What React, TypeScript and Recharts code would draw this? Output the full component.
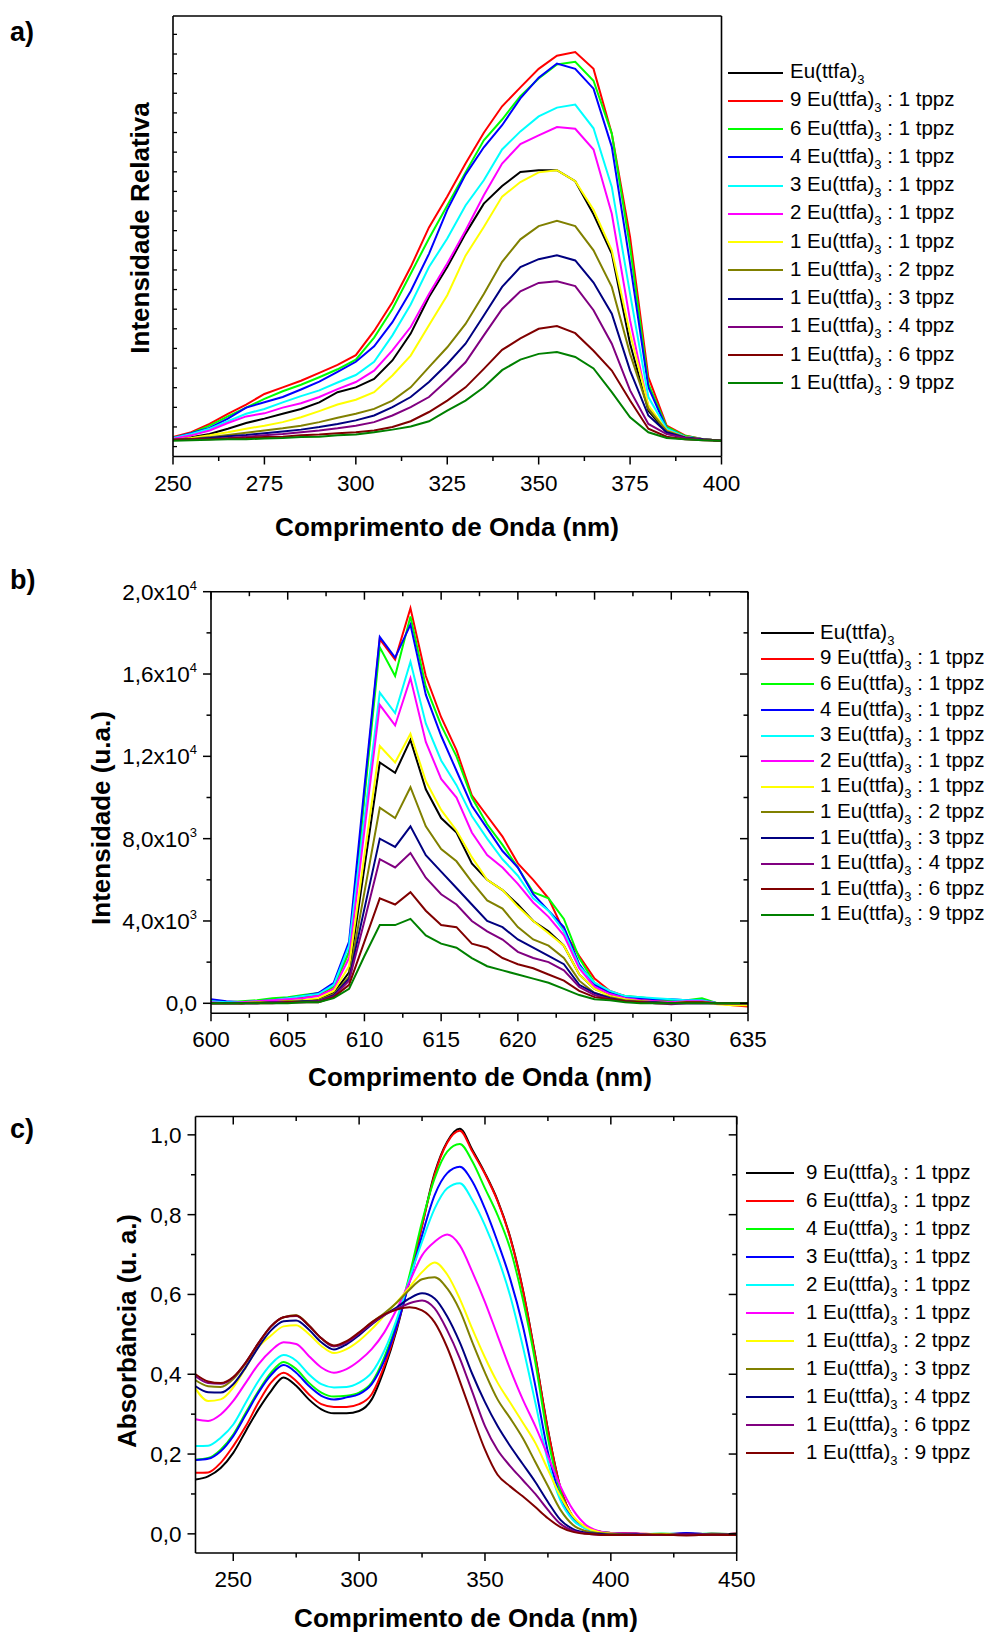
import React from 'react'
import { LineChart, Line, XAxis, YAxis, Legend } from 'recharts'

const FONT = "'Liberation Sans', Arial, Helvetica, sans-serif"
const TICK_FS = 22.5
const AXIS = { stroke: '#000', strokeWidth: 1.6 }

// ---------- a) excitation spectra, relative intensity ----------
const aWave = [250, 255, 260, 265, 270, 275, 280, 285, 290, 295, 300, 305, 310, 315, 320, 325, 330, 335, 340, 345, 350, 355, 360, 365, 370, 375, 380, 385, 390, 395, 400]
const aEu = [3.8, 4.4, 5.1, 6.3, 7.6, 8.6, 9.7, 10.8, 12.3, 14.6, 15.7, 17.6, 21.8, 27.9, 36.2, 43.0, 50.6, 57.4, 61.4, 64.6, 65.0, 65.0, 62.5, 55.0, 46.0, 25.6, 10.4, 5.5, 4.4, 3.9, 3.6]
const aR91 = [4.4, 5.5, 7.4, 9.7, 11.8, 14.2, 15.7, 17.2, 19.0, 20.8, 23.0, 28.5, 35.0, 43.0, 52.0, 59.0, 66.5, 73.5, 79.5, 83.8, 88.0, 91.0, 91.8, 88.0, 73.3, 49.8, 18.0, 7.0, 4.8, 3.9, 3.6]
const aR61 = [4.2, 5.3, 7.0, 9.1, 11.1, 13.1, 14.8, 16.3, 18.0, 19.8, 22.0, 27.0, 33.5, 41.5, 49.5, 57.0, 64.5, 71.8, 76.5, 81.8, 85.8, 89.0, 89.6, 85.3, 73.3, 47.5, 16.5, 6.7, 4.7, 3.9, 3.6]
const aR41 = [4.2, 5.3, 6.5, 8.6, 11.1, 12.3, 13.5, 15.2, 17.0, 19.2, 21.5, 25.0, 30.5, 37.5, 46.0, 56.0, 64.0, 70.2, 75.2, 81.3, 86.0, 89.2, 88.0, 83.5, 70.3, 43.8, 15.7, 6.3, 4.5, 3.9, 3.6]
const aR31 = [4.2, 5.1, 6.3, 8.0, 9.7, 10.8, 12.3, 13.7, 15.0, 16.8, 18.5, 21.5, 27.5, 34.5, 43.0, 49.5, 57.0, 62.7, 69.7, 73.8, 77.2, 79.2, 79.9, 74.5, 61.2, 36.9, 13.5, 6.3, 4.5, 3.9, 3.6]
const aR21 = [4.0, 4.8, 5.9, 7.6, 9.1, 9.8, 11.1, 12.1, 13.5, 15.3, 16.9, 19.5, 24.1, 29.4, 36.9, 43.8, 51.3, 59.3, 66.5, 70.9, 72.9, 74.8, 74.4, 69.7, 55.1, 30.9, 11.2, 5.9, 4.4, 3.9, 3.6]
const aR11 = [3.8, 4.2, 4.8, 5.5, 6.3, 7.0, 7.8, 8.9, 10.3, 11.8, 12.9, 14.6, 18.4, 22.9, 29.8, 36.6, 45.6, 52.1, 59.0, 62.3, 64.5, 65.0, 62.5, 56.0, 46.8, 27.9, 11.6, 5.9, 4.4, 3.9, 3.6]
const aR12 = [3.8, 4.0, 4.4, 4.9, 5.4, 5.9, 6.4, 7.0, 7.8, 8.8, 9.7, 10.8, 12.7, 15.7, 20.3, 24.8, 30.1, 36.9, 44.2, 49.3, 52.3, 53.5, 52.3, 46.8, 38.5, 23.3, 10.8, 5.8, 4.4, 3.9, 3.6]
const aR13 = [3.8, 3.9, 4.2, 4.6, 4.9, 5.3, 5.7, 6.1, 6.7, 7.4, 8.2, 9.3, 11.2, 13.5, 16.9, 21.0, 25.6, 32.0, 38.5, 43.0, 44.8, 45.7, 44.5, 39.5, 32.4, 19.5, 9.3, 5.5, 4.3, 3.9, 3.6]
const aR14 = [3.8, 3.9, 4.0, 4.2, 4.5, 4.8, 5.1, 5.5, 5.9, 6.4, 7.0, 7.8, 9.3, 11.2, 13.5, 17.3, 21.4, 27.5, 33.5, 37.5, 39.4, 39.8, 38.7, 33.2, 25.6, 15.0, 7.4, 5.1, 4.2, 3.8, 3.6]
const aR16 = [3.8, 3.9, 3.9, 4.1, 4.2, 4.4, 4.5, 4.8, 5.0, 5.3, 5.5, 5.9, 6.7, 8.0, 10.1, 12.7, 15.7, 19.9, 24.2, 26.8, 29.0, 29.6, 28.0, 24.0, 19.5, 12.7, 6.3, 4.5, 3.9, 3.7, 3.6]
const aR19 = [3.6, 3.7, 3.8, 3.9, 3.9, 4.1, 4.2, 4.4, 4.5, 4.8, 5.0, 5.5, 6.1, 6.8, 8.0, 10.4, 12.7, 15.7, 19.6, 22.0, 23.3, 23.7, 22.6, 20.0, 14.6, 8.9, 5.5, 4.2, 3.9, 3.7, 3.6]
const aXTicks = [250, 262.5, 275, 287.5, 300, 312.5, 325, 337.5, 350, 362.5, 375, 387.5, 400]
const aXMajor = [250, 275, 300, 325, 350, 375, 400]
const aYTicks = [2.25, 6.71, 11.16, 15.62, 20.07, 24.53, 28.99, 33.44, 37.9, 42.35, 46.81, 51.27, 55.72, 60.18, 64.63, 69.09, 73.55, 78.0, 82.46, 86.91, 91.37, 95.83]

// ---------- b) emission spectra ----------
const bWave = [600, 601, 602, 603, 604, 605, 606, 607, 608, 609, 610, 611, 612, 613, 614, 615, 616, 617, 618, 619, 620, 621, 622, 623, 624, 625, 626, 627, 628, 629, 630, 631, 632, 633, 634, 635]
const bEu = [0, 0, 0, 50, 50, 100, 150, 200, 500, 1500, 6600, 11700, 11200, 12800, 10400, 9000, 8300, 6800, 6000, 5500, 4800, 4000, 3500, 2800, 1400, 700, 400, 200, 150, 100, 50, 50, 50, 0, 0, 0]
const bR91 = [100, 50, 0, 50, 150, 200, 300, 400, 800, 2500, 10200, 17700, 16700, 19200, 15900, 13900, 12300, 10100, 9100, 8100, 6800, 6000, 5100, 3500, 2300, 1200, 600, 350, 250, 150, 100, 100, 150, 0, -100, -150]
const bR61 = [100, 50, 100, 150, 250, 300, 400, 500, 800, 2500, 10000, 17300, 15900, 18800, 15400, 13500, 12000, 10000, 8700, 7700, 6600, 5400, 5100, 4100, 2200, 1000, 500, 350, 300, 200, 150, 150, 250, 0, 0, 0]
const bR41 = [200, 100, 50, 100, 150, 250, 350, 500, 1000, 3000, 10500, 17800, 16800, 18400, 15000, 13000, 11300, 9600, 8500, 7400, 6600, 5300, 4500, 3700, 1900, 900, 500, 300, 250, 200, 200, 150, 150, 0, 0, 0]
const bR31 = [100, 50, 50, 100, 150, 250, 350, 450, 900, 2800, 9000, 15100, 14100, 16600, 13600, 11800, 10600, 9100, 8000, 7000, 6200, 5100, 4500, 3500, 1800, 1000, 600, 350, 300, 250, 200, 150, 150, 0, 0, 0]
const bR21 = [50, 0, 50, 100, 150, 200, 250, 350, 700, 2200, 8400, 14500, 13500, 15800, 12700, 10900, 10000, 8300, 7200, 6600, 5800, 4900, 4200, 3300, 1700, 800, 450, 250, 150, 100, 50, 100, 100, 0, 0, 0]
const bR11 = [0, 0, 0, 50, 50, 100, 150, 250, 600, 1800, 7200, 12500, 11700, 13100, 10800, 9400, 8400, 7100, 6000, 5500, 4700, 4000, 3400, 2800, 1400, 700, 350, 200, 100, 50, 0, 50, 50, -50, -100, -100]
const bR12 = [0, 0, 0, 50, 50, 100, 100, 150, 450, 1300, 5400, 9500, 9000, 10500, 8600, 7500, 6900, 5900, 5000, 4600, 3700, 3100, 2800, 2200, 1100, 500, 300, 150, 100, 50, 0, 50, 50, 0, 0, 0]
const bR13 = [0, 0, 0, 0, 50, 50, 100, 100, 400, 1200, 4600, 8000, 7600, 8600, 7200, 6400, 5600, 4800, 4000, 3700, 3100, 2700, 2300, 1900, 900, 500, 250, 100, 50, 50, 0, 0, 0, 0, 0, 0]
const bR14 = [0, 0, 0, 0, 50, 50, 50, 100, 350, 1100, 4000, 7000, 6600, 7300, 6100, 5300, 4800, 4000, 3500, 3100, 2500, 2200, 2000, 1600, 800, 400, 200, 100, 50, 0, -50, 0, 0, 0, 0, 0]
const bR16 = [0, 0, 0, 0, 0, 50, 50, 50, 300, 900, 3000, 5100, 4800, 5400, 4500, 3800, 3700, 2900, 2700, 2200, 1900, 1700, 1400, 1100, 600, 300, 200, 100, 50, 0, 0, 50, 50, 0, 0, 0]
const bR19 = [0, 0, 0, 0, 0, 0, 50, 50, 250, 700, 2300, 3800, 3800, 4100, 3300, 2900, 2700, 2200, 1800, 1600, 1400, 1200, 1000, 700, 400, 200, 150, 50, 0, 0, 0, 0, 0, 0, 0, 0]
const bXTicks = [600, 602.5, 605, 607.5, 610, 612.5, 615, 617.5, 620, 622.5, 625, 627.5, 630, 632.5, 635]
const bXMajor = [600, 605, 610, 615, 620, 625, 630, 635]
const bYTicks = [0, 2000, 4000, 6000, 8000, 10000, 12000, 14000, 16000, 18000, 20000]
const bYLabels: Record<number, [string, string]> = {
  0: ['0,0', ''],
  4000: ['4,0x10', '3'],
  8000: ['8,0x10', '3'],
  12000: ['1,2x10', '4'],
  16000: ['1,6x10', '4'],
  20000: ['2,0x10', '4']
}

// ---------- c) absorption spectra ----------
const cWave = [235, 240, 245, 250, 255, 260, 265, 270, 275, 280, 285, 290, 295, 300, 305, 310, 315, 320, 325, 330, 335, 340, 345, 350, 355, 360, 365, 370, 375, 380, 385, 390, 395, 400, 410, 420, 430, 440, 450]
const cR91 = [0.136, 0.144, 0.165, 0.203, 0.258, 0.312, 0.358, 0.392, 0.371, 0.337, 0.312, 0.302, 0.302, 0.308, 0.337, 0.413, 0.513, 0.639, 0.773, 0.904, 0.983, 1.015, 0.962, 0.904, 0.836, 0.744, 0.614, 0.446, 0.262, 0.115, 0.042, 0.017, 0.006, 0.002, 0.000, -0.002, 0.001, -0.001, 0.000]
const cR61 = [0.153, 0.154, 0.178, 0.220, 0.270, 0.329, 0.379, 0.404, 0.383, 0.350, 0.325, 0.318, 0.318, 0.325, 0.350, 0.421, 0.518, 0.640, 0.772, 0.900, 0.980, 1.010, 0.958, 0.902, 0.834, 0.742, 0.612, 0.444, 0.260, 0.114, 0.041, 0.017, 0.006, 0.002, 0.001, -0.001, 0.000, -0.002, 0.001]
const cR41 = [0.186, 0.190, 0.211, 0.249, 0.304, 0.358, 0.404, 0.431, 0.413, 0.379, 0.354, 0.344, 0.346, 0.354, 0.379, 0.442, 0.530, 0.648, 0.782, 0.891, 0.958, 0.977, 0.933, 0.866, 0.799, 0.715, 0.589, 0.430, 0.240, 0.105, 0.040, 0.016, 0.006, 0.002, -0.001, 0.000, -0.002, 0.001, -0.001]
const cR31 = [0.185, 0.188, 0.207, 0.245, 0.299, 0.354, 0.398, 0.423, 0.404, 0.371, 0.346, 0.337, 0.342, 0.350, 0.375, 0.434, 0.522, 0.631, 0.748, 0.849, 0.904, 0.920, 0.883, 0.815, 0.732, 0.639, 0.522, 0.371, 0.205, 0.092, 0.037, 0.014, 0.005, 0.001, 0.000, -0.002, 0.002, -0.001, 0.000]
const cR21 = [0.220, 0.221, 0.241, 0.274, 0.329, 0.383, 0.425, 0.448, 0.434, 0.400, 0.375, 0.367, 0.368, 0.379, 0.404, 0.459, 0.539, 0.639, 0.732, 0.815, 0.866, 0.879, 0.836, 0.773, 0.694, 0.597, 0.471, 0.329, 0.182, 0.083, 0.034, 0.013, 0.005, 0.001, -0.002, 0.001, -0.001, 0.000, -0.002]
const cR11 = [0.287, 0.283, 0.299, 0.333, 0.379, 0.425, 0.459, 0.480, 0.476, 0.446, 0.417, 0.404, 0.413, 0.434, 0.463, 0.505, 0.564, 0.631, 0.698, 0.732, 0.750, 0.723, 0.656, 0.581, 0.497, 0.413, 0.337, 0.270, 0.195, 0.119, 0.060, 0.023, 0.007, 0.002, 0.000, -0.001, -0.003, 0.000, -0.001]
const cR12 = [0.364, 0.333, 0.337, 0.367, 0.417, 0.468, 0.497, 0.520, 0.523, 0.501, 0.471, 0.453, 0.463, 0.484, 0.513, 0.547, 0.581, 0.618, 0.656, 0.680, 0.650, 0.589, 0.513, 0.442, 0.379, 0.329, 0.279, 0.228, 0.161, 0.094, 0.044, 0.017, 0.005, 0.001, -0.002, 0.000, -0.001, -0.003, 0.000]
const cR13 = [0.385, 0.370, 0.368, 0.388, 0.428, 0.477, 0.520, 0.543, 0.548, 0.523, 0.490, 0.470, 0.480, 0.503, 0.530, 0.553, 0.580, 0.612, 0.638, 0.643, 0.615, 0.560, 0.480, 0.404, 0.337, 0.290, 0.240, 0.180, 0.120, 0.060, 0.022, 0.007, 0.002, 0.000, -0.002, -0.001, -0.003, 0.000, -0.002]
const cR14 = [0.370, 0.355, 0.354, 0.375, 0.418, 0.468, 0.510, 0.533, 0.535, 0.512, 0.480, 0.462, 0.475, 0.498, 0.525, 0.548, 0.568, 0.590, 0.603, 0.590, 0.545, 0.480, 0.400, 0.330, 0.270, 0.220, 0.175, 0.130, 0.080, 0.035, 0.012, 0.003, 0.000, -0.002, -0.001, -0.003, 0.000, -0.002, -0.001]
const cR16 = [0.395, 0.378, 0.376, 0.392, 0.430, 0.478, 0.520, 0.543, 0.546, 0.522, 0.490, 0.470, 0.480, 0.502, 0.527, 0.548, 0.564, 0.578, 0.585, 0.565, 0.510, 0.440, 0.355, 0.270, 0.210, 0.170, 0.135, 0.100, 0.060, 0.025, 0.008, 0.001, -0.002, -0.003, -0.002, -0.003, -0.001, -0.002, -0.003]
const cR19 = [0.400, 0.382, 0.378, 0.393, 0.430, 0.478, 0.520, 0.543, 0.547, 0.522, 0.490, 0.472, 0.483, 0.505, 0.530, 0.550, 0.562, 0.568, 0.560, 0.530, 0.467, 0.383, 0.295, 0.211, 0.148, 0.119, 0.094, 0.067, 0.039, 0.017, 0.005, 0.000, -0.002, -0.003, -0.003, -0.002, -0.004, -0.002, -0.003]
const cXTicks = [250, 275, 300, 325, 350, 375, 400, 425, 450]
const cXMajor = [250, 300, 350, 400, 450]
const cYTicks = [0, 0.1, 0.2, 0.3, 0.4, 0.5, 0.6, 0.7, 0.8, 0.9, 1.0]
const cYMajor = [0, 0.2, 0.4, 0.6, 0.8, 1.0]

type Series = { key: string; label: string; color: string; values: number[] }

const C = {
  black: '#000000', red: '#ff0000', green: '#00ff00', blue: '#0000ff', cyan: '#00ffff', magenta: '#ff00ff',
  yellow: '#ffff00', olive: '#808000', navy: '#000080', purple: '#800080', maroon: '#800000', dgreen: '#008000'
}

const aSeries: Series[] = [
  { key: 'eu', label: 'Eu(ttfa)3', color: C.black, values: aEu },
  { key: 'r91', label: '9 Eu(ttfa)3 : 1 tppz', color: C.red, values: aR91 },
  { key: 'r61', label: '6 Eu(ttfa)3 : 1 tppz', color: C.green, values: aR61 },
  { key: 'r41', label: '4 Eu(ttfa)3 : 1 tppz', color: C.blue, values: aR41 },
  { key: 'r31', label: '3 Eu(ttfa)3 : 1 tppz', color: C.cyan, values: aR31 },
  { key: 'r21', label: '2 Eu(ttfa)3 : 1 tppz', color: C.magenta, values: aR21 },
  { key: 'r11', label: '1 Eu(ttfa)3 : 1 tppz', color: C.yellow, values: aR11 },
  { key: 'r12', label: '1 Eu(ttfa)3 : 2 tppz', color: C.olive, values: aR12 },
  { key: 'r13', label: '1 Eu(ttfa)3 : 3 tppz', color: C.navy, values: aR13 },
  { key: 'r14', label: '1 Eu(ttfa)3 : 4 tppz', color: C.purple, values: aR14 },
  { key: 'r16', label: '1 Eu(ttfa)3 : 6 tppz', color: C.maroon, values: aR16 },
  { key: 'r19', label: '1 Eu(ttfa)3 : 9 tppz', color: C.dgreen, values: aR19 }
]

const bSeries: Series[] = [
  { key: 'eu', label: 'Eu(ttfa)3', color: C.black, values: bEu },
  { key: 'r91', label: '9 Eu(ttfa)3 : 1 tppz', color: C.red, values: bR91 },
  { key: 'r61', label: '6 Eu(ttfa)3 : 1 tppz', color: C.green, values: bR61 },
  { key: 'r41', label: '4 Eu(ttfa)3 : 1 tppz', color: C.blue, values: bR41 },
  { key: 'r31', label: '3 Eu(ttfa)3 : 1 tppz', color: C.cyan, values: bR31 },
  { key: 'r21', label: '2 Eu(ttfa)3 : 1 tppz', color: C.magenta, values: bR21 },
  { key: 'r11', label: '1 Eu(ttfa)3 : 1 tppz', color: C.yellow, values: bR11 },
  { key: 'r12', label: '1 Eu(ttfa)3 : 2 tppz', color: C.olive, values: bR12 },
  { key: 'r13', label: '1 Eu(ttfa)3 : 3 tppz', color: C.navy, values: bR13 },
  { key: 'r14', label: '1 Eu(ttfa)3 : 4 tppz', color: C.purple, values: bR14 },
  { key: 'r16', label: '1 Eu(ttfa)3 : 6 tppz', color: C.maroon, values: bR16 },
  { key: 'r19', label: '1 Eu(ttfa)3 : 9 tppz', color: C.dgreen, values: bR19 }
]

const cSeries: Series[] = [
  { key: 'r91', label: '9 Eu(ttfa)3 : 1 tppz', color: C.black, values: cR91 },
  { key: 'r61', label: '6 Eu(ttfa)3 : 1 tppz', color: C.red, values: cR61 },
  { key: 'r41', label: '4 Eu(ttfa)3 : 1 tppz', color: C.green, values: cR41 },
  { key: 'r31', label: '3 Eu(ttfa)3 : 1 tppz', color: C.blue, values: cR31 },
  { key: 'r21', label: '2 Eu(ttfa)3 : 1 tppz', color: C.cyan, values: cR21 },
  { key: 'r11', label: '1 Eu(ttfa)3 : 1 tppz', color: C.magenta, values: cR11 },
  { key: 'r12', label: '1 Eu(ttfa)3 : 2 tppz', color: C.yellow, values: cR12 },
  { key: 'r13', label: '1 Eu(ttfa)3 : 3 tppz', color: C.olive, values: cR13 },
  { key: 'r14', label: '1 Eu(ttfa)3 : 4 tppz', color: C.navy, values: cR14 },
  { key: 'r16', label: '1 Eu(ttfa)3 : 6 tppz', color: C.purple, values: cR16 },
  { key: 'r19', label: '1 Eu(ttfa)3 : 9 tppz', color: C.maroon, values: cR19 }
]

function toRows(wave: number[], series: Series[]) {
  return wave.map((x, i) => {
    const row: Record<string, number> = { x }
    series.forEach(s => { row[s.key] = s.values[i] })
    return row
  })
}

// ---- ticks (drawn by hand so major/minor lengths differ) ----
function BottomTick(props: any) {
  const { x, y, payload, major } = props
  const isMajor = major.includes(payload.value)
  return (
    <g>
      <line x1={x} y1={y} x2={x} y2={y + (isMajor ? 8 : 4.5)} stroke="#000" strokeWidth={1.5} />
      {isMajor && (
        <text x={x} y={y + 34} textAnchor="middle" fontSize={TICK_FS} fontFamily={FONT} fill="#000">
          {payload.value}
        </text>
      )}
    </g>
  )
}

function TopTick(props: any) {
  const { x, y, payload, major } = props
  const isMajor = major.includes(payload.value)
  return <line x1={x} y1={y} x2={x} y2={y + (isMajor ? 8 : 4.5)} stroke="#000" strokeWidth={1.5} />
}

function RightTick(props: any) {
  const { x, y, payload, major } = props
  const isMajor = major.includes(payload.value)
  return <line x1={x - (isMajor ? 8 : 4.5)} y1={y} x2={x} y2={y} stroke="#000" strokeWidth={1.5} />
}

function LeftTick(props: any) {
  const { x, y, payload, major, label } = props
  const isMajor = major.includes(payload.value)
  const len = isMajor ? 8 : 4.5
  const lab = isMajor ? label(payload.value) : null
  return (
    <g>
      <line x1={x - len} y1={y} x2={x} y2={y} stroke="#000" strokeWidth={1.5} />
      {lab && (
        <text x={x - 14} y={y + 8} textAnchor="end" fontSize={TICK_FS} fontFamily={FONT} fill="#000">
          {lab[0]}
          {lab[1] && <tspan dy={-10} fontSize={13}>{lab[1]}</tspan>}
        </text>
      )}
    </g>
  )
}

function InnerLeftTick(props: any) {
  const { x, y } = props
  return <line x1={x} y1={y} x2={x + 4} y2={y} stroke="#000" strokeWidth={1.3} />
}

function LegendLabel({ text }: { text: string }) {
  const [pre, post] = text.split('Eu(ttfa)3')
  return (
    <span>
      {pre}Eu(ttfa)
      <span style={{ fontSize: 13, position: 'relative', top: 6 }}>3</span>
      {post}
    </span>
  )
}

function LegendBox({ series, rowH, lineW, gap }: { series: Series[]; rowH: number; lineW: number; gap: number }) {
  return (
    <div style={{ fontFamily: FONT, fontSize: 20.5, color: '#000' }}>
      {series.map(s => (
        <div key={s.key} style={{ height: rowH, display: 'flex', alignItems: 'center', whiteSpace: 'nowrap' }}>
          <svg width={lineW} height={6} style={{ display: 'block', flex: 'none' }}>
            <line x1={0} y1={3} x2={lineW} y2={3} stroke={s.color} strokeWidth={2} />
          </svg>
          <div style={{ marginLeft: gap, lineHeight: '20px' }}>
            <LegendLabel text={s.label} />
          </div>
        </div>
      ))}
    </div>
  )
}

type PanelProps = {
  top: number
  height: number
  margin: { top: number; right: number; bottom: number; left: number }
  leftWidth: number
  series: Series[]
  wave: number[]
  curve: 'linear' | 'monotone'
  xDomain: [number, number]
  xTicks: number[]
  xMajor: number[]
  yDomain: [number, number]
  yTicks: number[]
  yMajor: number[]
  yLabel: ((v: number) => [string, string] | null) | null
  boxTicks: boolean
  legend: { left: number; top: number; rowH: number; lineW: number; gap: number }
}

function Panel(p: PanelProps) {
  const rows = toRows(p.wave, p.series)
  return (
    <div style={{ position: 'absolute', left: 0, top: p.top }}>
      <LineChart width={989} height={p.height} data={rows} margin={p.margin}>
        <XAxis
          xAxisId="b" dataKey="x" type="number" domain={p.xDomain} ticks={p.xTicks} interval={0}
          allowDataOverflow height={60} tickSize={0} tickMargin={0} tickLine={false} axisLine={AXIS}
          tick={(t: any) => <BottomTick {...t} major={p.xMajor} />}
        />
        <XAxis
          xAxisId="t" orientation="top" dataKey="x" type="number" domain={p.xDomain} ticks={p.xTicks} interval={0}
          allowDataOverflow height={1} tickSize={0} tickMargin={0} tickLine={false} axisLine={AXIS}
          tick={p.boxTicks ? (t: any) => <TopTick {...t} major={p.xMajor} /> : false}
        />
        <YAxis
          yAxisId="l" type="number" domain={p.yDomain} ticks={p.yTicks} interval={0} allowDataOverflow
          width={p.leftWidth} tickSize={0} tickMargin={0} tickLine={false} axisLine={AXIS}
          tick={p.yLabel
            ? (t: any) => <LeftTick {...t} major={p.yMajor} label={p.yLabel} />
            : (t: any) => <InnerLeftTick {...t} />}
        />
        <YAxis
          yAxisId="r" orientation="right" type="number" domain={p.yDomain} ticks={p.yTicks} interval={0}
          allowDataOverflow width={1} tickSize={0} tickMargin={0} tickLine={false} axisLine={AXIS}
          tick={p.boxTicks ? (t: any) => <RightTick {...t} major={p.yMajor} /> : false}
        />
        <Legend
          layout="vertical" align="center" verticalAlign="middle"
          wrapperStyle={{ left: p.legend.left, top: p.legend.top, width: 989 - p.legend.left, height: p.series.length * p.legend.rowH }}
          content={() => <LegendBox series={p.series} rowH={p.legend.rowH} lineW={p.legend.lineW} gap={p.legend.gap} />}
        />
        {p.series.map(s => (
          <Line
            key={s.key} xAxisId="b" yAxisId="l" type={p.curve} dataKey={s.key} name={s.label}
            stroke={s.color} strokeWidth={2} dot={false} activeDot={false} isAnimationActive={false}
          />
        ))}
      </LineChart>
    </div>
  )
}

const titleStyle: React.CSSProperties = {
  position: 'absolute', fontFamily: FONT, fontWeight: 'bold', fontSize: 26, lineHeight: '26px',
  whiteSpace: 'nowrap', color: '#000'
}

function XTitle({ cx, cy, text }: { cx: number; cy: number; text: string }) {
  return <div style={{ ...titleStyle, left: cx, top: cy, transform: 'translate(-50%, -50%)' }}>{text}</div>
}

function YTitle({ cx, cy, text }: { cx: number; cy: number; text: string }) {
  return <div style={{ ...titleStyle, left: cx, top: cy, transform: 'translate(-50%, -50%) rotate(-90deg)' }}>{text}</div>
}

function Letter({ x, cy, text }: { x: number; cy: number; text: string }) {
  return <div style={{ ...titleStyle, fontSize: 27, lineHeight: '27px', left: x, top: cy - 13.5 }}>{text}</div>
}

const cLabel = (v: number): [string, string] => [v.toFixed(1).replace('.', ','), '']

export default function App() {
  return (
    <div style={{ position: 'absolute', left: 0, top: 0, width: 989, height: 1633, background: '#fff', overflow: 'hidden' }}>
      <Panel
        top={0} height={545} margin={{ top: 15, right: 266.5, bottom: 28.5, left: 113 }} leftWidth={60}
        series={aSeries} wave={aWave} curve="linear" xDomain={[250, 400]} xTicks={aXTicks} xMajor={aXMajor}
        yDomain={[0, 100]} yTicks={aYTicks} yMajor={[]} yLabel={null} boxTicks={false}
        legend={{ left: 728, top: 58.6, rowH: 28.24, lineW: 55, gap: 7 }}
      />
      <Panel
        top={560} height={540} margin={{ top: 30.7, right: 240, bottom: 26.7, left: 91 }} leftWidth={120}
        series={bSeries} wave={bWave} curve="linear" xDomain={[600, 635]} xTicks={bXTicks} xMajor={bXMajor}
        yDomain={[-486, 20000]} yTicks={bYTicks} yMajor={Object.keys(bYLabels).map(Number)}
        yLabel={(v: number) => bYLabels[v] || null} boxTicks={true}
        legend={{ left: 760.7, top: 60.5, rowH: 25.6, lineW: 53.3, gap: 6 }}
      />
      <Panel
        top={1100} height={533} margin={{ top: 15.5, right: 251.3, bottom: 20, left: 95.5 }} leftWidth={100}
        series={cSeries} wave={cWave} curve="monotone" xDomain={[235, 450]} xTicks={cXTicks} xMajor={cXMajor}
        yDomain={[-0.048, 1.046]} yTicks={cYTicks} yMajor={cYMajor} yLabel={cLabel} boxTicks={true}
        legend={{ left: 746, top: 59.3, rowH: 28, lineW: 48, gap: 12 }}
      />

      <Letter x={10} cy={32} text="a)" />
      <Letter x={10} cy={580} text="b)" />
      <Letter x={10} cy={1129} text="c)" />

      <YTitle cx={140} cy={228} text="Intensidade Relativa" />
      <YTitle cx={101} cy={818} text="Intensidade (u.a.)" />
      <YTitle cx={127} cy={1331} text="Absorbância (u. a.)" />

      <XTitle cx={447} cy={527} text="Comprimento de Onda (nm)" />
      <XTitle cx={480} cy={1077} text="Comprimento de Onda (nm)" />
      <XTitle cx={466} cy={1618} text="Comprimento de Onda (nm)" />
    </div>
  )
}
